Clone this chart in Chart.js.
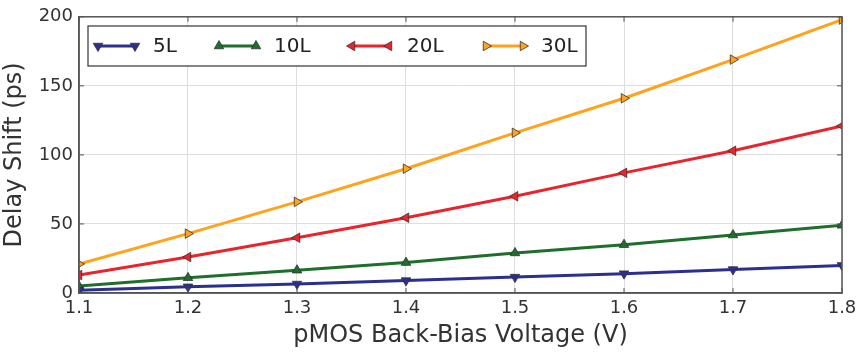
<!DOCTYPE html>
<html>
<head>
<meta charset="utf-8">
<script src="https://cdn.jsdelivr.net/npm/chart.js@4/dist/chart.umd.min.js"></script>
<style>
  html, body { margin: 0; padding: 0; background: #fff; }
  #wrap { width: 857px; height: 356px; position: relative; }
</style>
</head>
<body>
<div id="wrap"><canvas id="c"></canvas></div>
<script>
// --- Data ---
const voltages = [1.1, 1.2, 1.3, 1.4, 1.5, 1.6, 1.7, 1.8]
const delay5L  = [2, 4.5, 6.5, 9, 11.5, 14, 17, 20]
const delay10L = [5, 11, 16.5, 22, 29, 35, 42, 49]
const delay20L = [13, 26, 40, 54.5, 70, 87, 103, 121]
const delay30L = [21, 43, 66, 90, 116, 141, 169, 198]
const seriesNames = ['5L', '10L', '20L', '30L']
const yTicks = [0, 50, 100, 150, 200]

const FONT = "'DejaVu Sans', sans-serif"

function series(label, values, color, rotation) {
  return {
    label: label,
    data: values.map((v, i) => ({ x: voltages[i], y: v })),
    borderColor: color,
    backgroundColor: color,
    borderWidth: 3,
    pointStyle: 'triangle',
    pointRotation: rotation,
    pointRadius: 5.5,
    pointBorderColor: '#333',
    pointBorderWidth: 0.8,
    pointBackgroundColor: color,
    tension: 0
  }
}

const datasets = [
  series(seriesNames[0], delay5L, '#2b2f8f', 180),
  series(seriesNames[1], delay10L, '#1e6e2c', 0),
  series(seriesNames[2], delay20L, '#e8242c', -90),
  series(seriesNames[3], delay30L, '#ffa21c', 90)
]

// frame on all four sides plus inward tick marks
const framePlugin = {
  id: 'frame',
  afterDatasetsDraw(chart) {
    const { ctx, chartArea: a, scales } = chart
    ctx.save()
    ctx.strokeStyle = '#555'
    ctx.lineWidth = 1.5
    ctx.strokeRect(a.left, a.top, a.right - a.left, a.bottom - a.top)
    ctx.lineWidth = 1
    ctx.beginPath()
    voltages.forEach(v => {
      const x = scales.x.getPixelForValue(v)
      ctx.moveTo(x, a.top); ctx.lineTo(x, a.top + 5)
      ctx.moveTo(x, a.bottom); ctx.lineTo(x, a.bottom - 5)
    })
    yTicks.forEach(t => {
      const y = scales.y.getPixelForValue(t)
      ctx.moveTo(a.right, y); ctx.lineTo(a.right - 5, y)
      ctx.moveTo(a.left, y); ctx.lineTo(a.left + 5, y)
    })
    ctx.stroke()
    ctx.restore()
  }
}

// matplotlib-style legend: short line with a marker on each end
const legendPlugin = {
  id: 'mplLegend',
  afterDraw(chart) {
    const { ctx } = chart
    const box = { x: 88, y: 26, w: 498, h: 40 }
    const slots = [98, 219, 352, 486]
    ctx.save()
    ctx.fillStyle = '#fff'
    ctx.fillRect(box.x, box.y, box.w, box.h)
    ctx.strokeStyle = '#333'
    ctx.lineWidth = 1.2
    ctx.strokeRect(box.x, box.y, box.w, box.h)
    const cy = box.y + box.h / 2
    chart.data.datasets.forEach((ds, i) => {
      const x0 = slots[i], x1 = x0 + 37
      ctx.strokeStyle = ds.borderColor
      ctx.lineWidth = 3
      ctx.beginPath(); ctx.moveTo(x0, cy); ctx.lineTo(x1, cy); ctx.stroke()
      ctx.fillStyle = ds.pointBackgroundColor
      ctx.strokeStyle = ds.pointBorderColor
      ctx.lineWidth = ds.pointBorderWidth
      const opts = { pointStyle: ds.pointStyle, rotation: ds.pointRotation, radius: 5.5, borderWidth: ds.pointBorderWidth }
      Chart.helpers.drawPoint(ctx, opts, x0, cy)
      Chart.helpers.drawPoint(ctx, opts, x1, cy)
      ctx.fillStyle = '#222'
      ctx.font = '20px ' + FONT
      ctx.textBaseline = 'middle'
      ctx.fillText(ds.label, x1 + 18, cy + 1)
    })
    ctx.restore()
  }
}

new Chart(document.getElementById('c'), {
  type: 'line',
  data: { datasets: datasets },
  options: {
    responsive: true,
    maintainAspectRatio: false,
    animation: false,
    layout: { padding: { top: 14, right: 15, left: 0, bottom: 0 } },
    plugins: { legend: { display: false }, tooltip: { enabled: false } },
    scales: {
      x: {
        type: 'linear',
        min: 1.1,
        max: 1.8,
        afterBuildTicks(scale) { scale.ticks = voltages.map(v => ({ value: v })) },
        afterFit(scale) {
          scale.height = 63
          scale.paddingLeft = 0
          scale.paddingRight = 0
        },
        ticks: {
          color: '#333',
          font: { family: FONT, size: 18 },
          padding: 5,
          maxRotation: 0,
          callback: v => v.toFixed(1)
        },
        grid: { color: '#dedede', lineWidth: 1, drawTicks: false },
        border: { color: '#555', width: 1.5 },
        title: {
          display: true,
          text: 'pMOS Back-Bias Voltage (V)',
          color: '#333',
          font: { family: FONT, size: 24 },
          padding: { top: 2, bottom: 6 }
        }
      },
      y: {
        min: 0,
        max: 200,
        afterBuildTicks(scale) { scale.ticks = yTicks.map(v => ({ value: v })) },
        afterFit(scale) { scale.width = 79 },
        ticks: {
          color: '#333',
          font: { family: FONT, size: 18 },
          padding: 6
        },
        grid: { color: '#dedede', lineWidth: 1, drawTicks: false },
        border: { color: '#555', width: 1.5 },
        title: {
          display: true,
          text: 'Delay Shift (ps)',
          color: '#333',
          font: { family: FONT, size: 24 },
          padding: { top: 0, bottom: 2 }
        }
      }
    }
  },
  plugins: [framePlugin, legendPlugin]
})
</script>
</body>
</html>
